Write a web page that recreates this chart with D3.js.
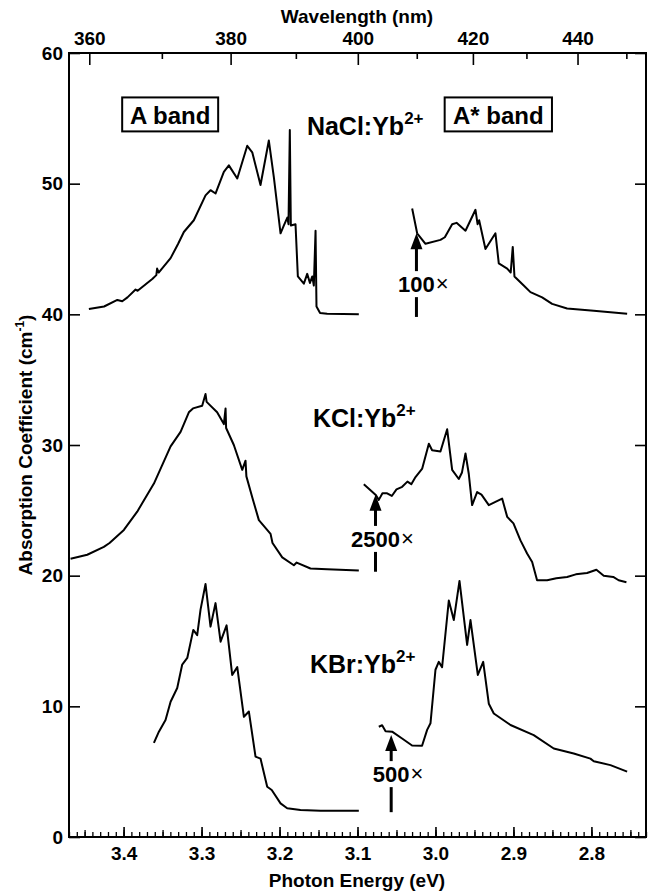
<!DOCTYPE html>
<html>
<head>
<meta charset="utf-8">
<script src="https://cdn.jsdelivr.net/npm/d3@7"></script>
<style>
body { margin: 0; background: #fff; }
text { font-family: "Liberation Sans", Arial, Helvetica, sans-serif; font-weight: bold; fill: #000; }
</style>
</head>
<body>
<svg id="chart" width="654" height="894"></svg>
<script>
// spectra: [photon energy (eV), absorption coefficient (cm-1)]
var naclA = [[3.4445,40.4],[3.425,40.6],[3.408,41.1],[3.4017,41.0],[3.395,41.3],[3.3846,41.9],[3.382,41.8],[3.3632,42.7],[3.358,43.0],[3.357,43.5],[3.355,43.2],[3.3397,44.3],[3.33,45.4],[3.3227,46.3],[3.3099,47.2],[3.2949,49.1],[3.2885,49.5],[3.282,49.25],[3.2714,50.9],[3.265,51.4],[3.2542,50.4],[3.2414,52.9],[3.235,52.4],[3.2244,49.9],[3.2137,53.3],[3.2073,50.5],[3.1987,46.2],[3.1944,46.8],[3.19,47.4],[3.1885,46.9],[3.1868,54.1],[3.1855,46.8],[3.1795,46.9],[3.1765,42.9],[3.1688,42.35],[3.1645,43.1],[3.161,42.4],[3.158,42.9],[3.156,42.2],[3.1538,46.4],[3.1526,40.6],[3.148,40.1],[3.1389,40.05],[3.0983,40.0]];
var naclAstar = [[3.0299,48.1],[3.0235,46.2],[3.0128,45.4],[2.9936,45.7],[2.988,45.9],[2.9786,46.9],[2.973,47.0],[2.9615,46.4],[2.9487,48.0],[2.946,46.9],[2.944,47.2],[2.9359,45.0],[2.9231,46.2],[2.9188,43.9],[2.908,43.5],[2.9035,43.2],[2.9009,45.16],[2.8987,42.9],[2.8868,42.2],[2.8782,41.7],[2.8632,41.3],[2.8504,40.8],[2.8312,40.45],[2.797,40.27],[2.7542,40.05]];
var kclA = [[3.468,21.3],[3.4466,21.6],[3.4253,22.2],[3.418,22.5],[3.3996,23.5],[3.3825,24.9],[3.3611,27.05],[3.3397,29.9],[3.3269,31.0],[3.3163,32.5],[3.311,32.8],[3.2992,33.0],[3.2949,33.9],[3.2935,33.3],[3.28,32.5],[3.2714,31.6],[3.2692,32.8],[3.2685,31.3],[3.2586,30.0],[3.2478,28.1],[3.2436,28.8],[3.2425,27.6],[3.235,26.0],[3.2265,24.25],[3.2115,23.2],[3.209,22.5],[3.1965,21.4],[3.1816,20.8],[3.178,21.0],[3.1603,20.55],[3.139,20.5],[3.0983,20.4]];
var kclAstar = [[3.0919,27.0],[3.0769,26.2],[3.0727,25.8],[3.068,26.3],[3.062,26.3],[3.056,26.1],[3.05,26.6],[3.0427,26.8],[3.036,27.2],[3.031,27.0],[3.0256,27.55],[3.017,28.2],[3.0085,30.1],[3.0043,29.6],[2.9936,29.5],[2.985,31.2],[2.9786,28.1],[2.9701,27.4],[2.966,27.9],[2.9615,29.35],[2.9573,27.8],[2.953,25.4],[2.9466,26.4],[2.941,26.2],[2.9316,25.4],[2.9231,25.65],[2.9145,25.9],[2.908,24.5],[2.90,24.0],[2.891,22.7],[2.8825,21.7],[2.876,21.05],[2.8697,19.65],[2.8568,19.65],[2.845,19.8],[2.8312,19.9],[2.82,20.1],[2.8056,20.2],[2.7936,20.45],[2.7842,20.0],[2.772,19.9],[2.7651,19.65],[2.7551,19.5]];
var kbrA = [[3.3611,7.2],[3.3547,8.06],[3.3462,8.95],[3.3397,10.35],[3.3312,11.4],[3.3248,13.2],[3.3183,13.7],[3.3106,15.85],[3.3056,15.45],[3.3013,17.4],[3.2949,19.36],[3.2885,16.1],[3.2821,17.9],[3.2756,14.95],[3.2679,16.2],[3.2607,12.4],[3.2542,13.0],[3.2457,9.2],[3.2393,9.6],[3.2308,6.15],[3.2244,6.0],[3.2158,3.85],[3.21,3.6],[3.1987,2.57],[3.1902,2.2],[3.1731,2.07],[3.1474,2.0],[3.0983,2.0]];
var kbrAstar = [[3.0727,8.44],[3.0684,8.55],[3.064,8.1],[3.0556,8.06],[3.0428,7.54],[3.03,7.0],[3.0172,6.98],[3.0107,8.2],[3.0064,8.7],[3.0,12.8],[2.9958,13.4],[2.9915,13.0],[2.9829,18.1],[2.9765,16.6],[2.9692,19.6],[2.9594,14.7],[2.9551,16.6],[2.9457,12.4],[2.9388,13.4],[2.9316,10.2],[2.9252,9.45],[2.9038,8.57],[2.874,7.8],[2.8483,6.77],[2.8227,6.39],[2.8013,6.0],[2.797,5.8],[2.7756,5.5],[2.7542,5.0]];

var energyTicks = [3.4, 3.3, 3.2, 3.1, 3.0, 2.9, 2.8];
var wavelengthTicks = [360, 380, 400, 420, 440];
var wavelengthMinor = [370, 390, 410, 430, 450];
var yTicks = [0, 10, 20, 30, 40, 50, 60];

// scale factors (arrows)
var multText = ["100", "2500", "500"];
var multEnergy = [3.0244, 3.0769, 3.0568];
var multTip = [46.2, 26.2, 7.8];
var multLabel = [41.7, 22.2, 4.2];
var multBottom = [39.8, 20.3, 1.9];

// compound name, left energy, baseline value
var compounds = [["NaCl:Yb", 3.1649, 53.7], ["KCl:Yb", 3.1572, 31.38], ["KBr:Yb", 3.161, 12.55]];

var hc = 1239.84;
var svg = d3.select("#chart");
var x = d3.scaleLinear().domain([3.47, 2.73]).range([69, 646]);
var y = d3.scaleLinear().domain([0, 60]).range([837, 53]);

// bottom axis
var minorE = d3.range(273, 348).map(function(d) { return d / 100; });
svg.append("g").attr("transform", "translate(0,837)")
  .call(d3.axisBottom(x).tickValues(minorE).tickSize(-5).tickFormat(""))
  .call(function(g) { g.select(".domain").remove(); g.selectAll("line").attr("stroke-width", 1.3); });
svg.append("g").attr("transform", "translate(0,837)")
  .call(d3.axisBottom(x).tickValues(minorE.filter(function(d) { return Math.round(d * 100) % 5 == 0; })).tickSize(-7).tickFormat(""))
  .call(function(g) { g.select(".domain").remove(); g.selectAll("line").attr("stroke-width", 1.3); });
svg.append("g").attr("transform", "translate(0,837)")
  .call(d3.axisBottom(x).tickValues(energyTicks).tickSize(-10).tickPadding(9.5).tickFormat(d3.format(".1f")))
  .call(function(g) { g.select(".domain").remove(); g.selectAll("line").attr("stroke-width", 1.6);
    g.selectAll("text").attr("font-size", 19).attr("font-family", null); });

// top axis (wavelength)
svg.append("g").attr("transform", "translate(0,53)")
  .call(d3.axisTop(x).tickValues(wavelengthMinor.map(function(l) { return hc / l; })).tickSize(-6).tickFormat(""))
  .call(function(g) { g.select(".domain").remove(); g.selectAll("line").attr("stroke-width", 1.6); });
svg.append("g").attr("transform", "translate(0,53)")
  .call(d3.axisTop(x).tickValues(wavelengthTicks.map(function(l) { return hc / l; })).tickSize(-12).tickPadding(8)
    .tickFormat(function(e) { return Math.round(hc / e); }))
  .call(function(g) { g.select(".domain").remove(); g.selectAll("line").attr("stroke-width", 1.6);
    g.selectAll("text").attr("font-size", 19).attr("font-family", null); });

// y axes
svg.append("g").attr("transform", "translate(69,0)")
  .call(d3.axisLeft(y).tickValues(yTicks).tickSize(-11).tickPadding(6))
  .call(function(g) { g.select(".domain").remove(); g.selectAll("line").attr("stroke-width", 1.6);
    g.selectAll("text").attr("font-size", 19).attr("font-family", null); });
svg.append("g").attr("transform", "translate(646,0)")
  .call(d3.axisRight(y).tickValues(yTicks).tickSize(-11).tickFormat(""))
  .call(function(g) { g.select(".domain").remove(); g.selectAll("line").attr("stroke-width", 1.6); });

// frame
svg.append("rect").attr("x", 69).attr("y", 53).attr("width", 577).attr("height", 784)
  .style("fill", "none").style("stroke", "#000").style("stroke-width", 2);

// titles
svg.append("text").attr("x", 357).attr("y", 23).attr("text-anchor", "middle").attr("font-size", 19).text("Wavelength (nm)");
svg.append("text").attr("x", 357).attr("y", 887).attr("text-anchor", "middle").attr("font-size", 19).text("Photon Energy (eV)");
var yt = svg.append("text").attr("transform", "translate(32,445) rotate(-90)").attr("text-anchor", "middle").attr("font-size", 19);
yt.append("tspan").text("Absorption Coefficient (cm");
yt.append("tspan").attr("font-size", 12).attr("dy", -8).text("-1");
yt.append("tspan").attr("dy", 8).text(")");

// spectra
var line = d3.line().x(function(d) { return x(d[0]); }).y(function(d) { return y(d[1]); });
svg.selectAll("path.spec").data([naclA, naclAstar, kclA, kclAstar, kbrA, kbrAstar]).enter()
  .append("path").attr("class", "spec").attr("d", line)
  .style("fill", "none").style("stroke", "#000").style("stroke-width", 2).style("stroke-linejoin", "round");

// band boxes
[["A band", 3.4018, 3.2787], ["A* band", 2.9882, 2.8506]].forEach(function(b) {
  var x0 = x(b[1]), x1 = x(b[2]);
  svg.append("rect").attr("x", x0).attr("y", y(56.6)).attr("width", x1 - x0).attr("height", y(54.0) - y(56.6))
    .style("fill", "#fff").style("stroke", "#000").style("stroke-width", 2);
  svg.append("text").attr("x", (x0 + x1) / 2).attr("y", y(55.25) + 9).attr("text-anchor", "middle").attr("font-size", 24).text(b[0]);
});

// compound labels
compounds.forEach(function(c) {
  var t = svg.append("text").attr("x", x(c[1])).attr("y", y(c[2])).attr("font-size", 25);
  t.append("tspan").text(c[0]);
  t.append("tspan").attr("font-size", 17).attr("dy", -11).text("2+");
});

// arrows with multipliers
multText.forEach(function(m, i) {
  var ax = x(multEnergy[i]), tip = y(multTip[i]), base = y(multLabel[i]), bot = y(multBottom[i]);
  svg.append("path").attr("d", "M" + ax + "," + tip + "L" + (ax - 6) + "," + (tip + 16) + "L" + (ax + 6) + "," + (tip + 16) + "Z")
    .style("fill", "#000");
  svg.append("line").attr("x1", ax).attr("x2", ax).attr("y1", tip + 14).attr("y2", base - 21)
    .style("stroke", "#000").style("stroke-width", 3);
  svg.append("line").attr("x1", ax).attr("x2", ax).attr("y1", base + 5).attr("y2", bot)
    .style("stroke", "#000").style("stroke-width", 3);
  var t = svg.append("text").attr("x", ax).attr("y", base).attr("text-anchor", "middle").attr("font-size", 22).text(m);
  var w = t.node().getComputedTextLength();
  svg.append("text").attr("x", ax + w / 2 + 1).attr("y", base - 1).attr("font-size", 22)
    .style("font-weight", "normal").text("\u00d7");
});
</script>
</body>
</html>
